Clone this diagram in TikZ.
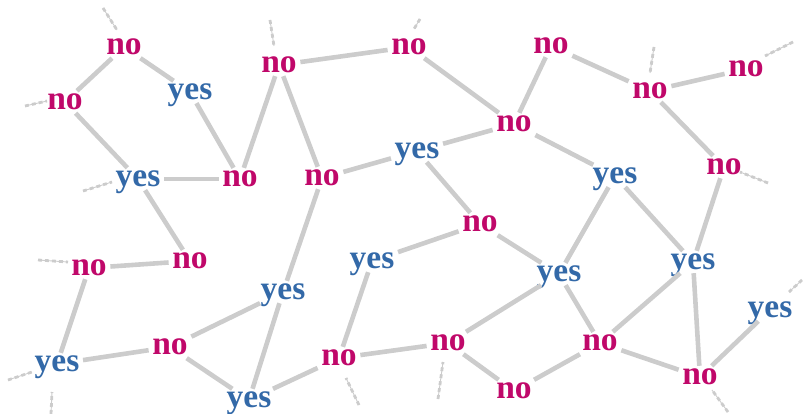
\documentclass[tikz,border=0pt]{standalone}
\usepackage{fontspec}
\setmainfont{Liberation Serif}
\definecolor{nocol}{HTML}{C0086A}
\definecolor{yescol}{HTML}{3369A8}
\definecolor{edgecol}{HTML}{CCCCCC}
\tikzset{
  lab/.style={font=\fontsize{33.5}{33.5}\selectfont\bfseries, anchor=base,
    text height=15pt, text depth=0pt, inner sep=3.5pt, yshift=-1.5pt},
  nolab/.style={lab, text=nocol},
  yeslab/.style={lab, text=yescol},
  link/.style={draw=edgecol, line width=4.6pt},
  stub/.style={draw=edgecol, line width=0.9pt,
    postaction={draw=edgecol, line width=2.8pt, dash pattern=on 4pt off 3pt}}
}
\begin{document}
\begin{tikzpicture}[x=1pt, y=-1pt]
\useasboundingbox (0,0) rectangle (803,414);
% nodes (baseline positions)
\node[nolab]  (n1)  at (124,53)  {no};
\node[nolab]  (n2)  at (65,108)  {no};
\node[yeslab] (n3)  at (190,98)  {yes};
\node[yeslab] (n4)  at (138,185) {yes};
\node[nolab]  (n5)  at (240,185) {no};
\node[nolab]  (n6)  at (279,71)  {no};
\node[nolab]  (n7)  at (409,53)  {no};
\node[nolab]  (n8)  at (322,184) {no};
\node[yeslab] (n9)  at (417,157) {yes};
\node[nolab]  (n10) at (514,130) {no};
\node[nolab]  (n11) at (551,52)  {no};
\node[nolab]  (n12) at (650,97)  {no};
\node[nolab]  (n13) at (746,75)  {no};
\node[nolab]  (n14) at (724,173) {no};
\node[yeslab] (n15) at (615,182) {yes};
\node[nolab]  (n16) at (480,230) {no};
\node[nolab]  (n17) at (190,267) {no};
\node[nolab]  (n18) at (89,274)  {no};
\node[yeslab] (n19) at (372,267) {yes};
\node[yeslab] (n20) at (559,280) {yes};
\node[yeslab] (n21) at (693,268) {yes};
\node[yeslab] (n22) at (283,298) {yes};
\node[yeslab] (n23) at (770,316) {yes};
\node[yeslab] (n24) at (57,370)  {yes};
\node[nolab]  (n25) at (170,353) {no};
\node[nolab]  (n26) at (339,364) {no};
\node[nolab]  (n27) at (448,349) {no};
\node[nolab]  (n28) at (600,349) {no};
\node[nolab]  (n29) at (700,383) {no};
\node[yeslab] (n30) at (249,406) {yes};
\node[nolab]  (n31) at (514,397) {no};
% edges
\foreach \a/\b in {n1/n2, n1/n3, n2/n4, n3/n5, n4/n5, n4/n17, n5/n6, n6/n7,
  n6/n8, n7/n10, n8/n9, n9/n10, n8/n22, n10/n11, n10/n15, n9/n16, n11/n12,
  n12/n13, n12/n14, n14/n21, n15/n20, n15/n21, n16/n19, n16/n20, n17/n18,
  n18/n24, n24/n25, n25/n22, n25/n30, n22/n30, n30/n26, n19/n26, n26/n27,
  n27/n20, n27/n31, n31/n28, n20/n28, n28/n21, n28/n29, n21/n29, n29/n23}
  \draw[link] (\a) -- (\b);
% stubs
\coordinate (s1a) at (103,8);   \coordinate (s1b) at (117,30);
\coordinate (s2a) at (25,106);  \coordinate (s2b) at (47,101);
\coordinate (s4a) at (83,191);  \coordinate (s4b) at (112,182);
\coordinate (s6a) at (270,20);  \coordinate (s6b) at (274,46);
\coordinate (s7a) at (420,19);  \coordinate (s7b) at (414,29);
\coordinate (s12a) at (654,47); \coordinate (s12b) at (650,73);
\coordinate (s13a) at (793,42); \coordinate (s13b) at (765,56);
\coordinate (s14a) at (768,183);\coordinate (s14b) at (740,172);
\coordinate (s18a) at (38,260); \coordinate (s18b) at (68,262);
\coordinate (s24a) at (8,380);  \coordinate (s24b) at (32,372);
\coordinate (s24c) at (51,414); \coordinate (s24d) at (52,392);
\coordinate (s26a) at (359,405);\coordinate (s26b) at (346,378);
\coordinate (s27a) at (438,399);\coordinate (s27b) at (443,362);
\coordinate (s29a) at (728,412);\coordinate (s29b) at (712,390);
\coordinate (s23a) at (802,280);\coordinate (s23b) at (789,292);
\foreach \a/\b in {s1a/s1b, s2a/s2b, s4a/s4b, s6a/s6b, s7a/s7b, s12a/s12b,
  s13a/s13b, s14a/s14b, s18a/s18b, s24a/s24b, s24c/s24d, s26a/s26b,
  s27a/s27b, s29a/s29b, s23a/s23b}
  \draw[stub] (\a) -- (\b);
\end{tikzpicture}
\end{document}
